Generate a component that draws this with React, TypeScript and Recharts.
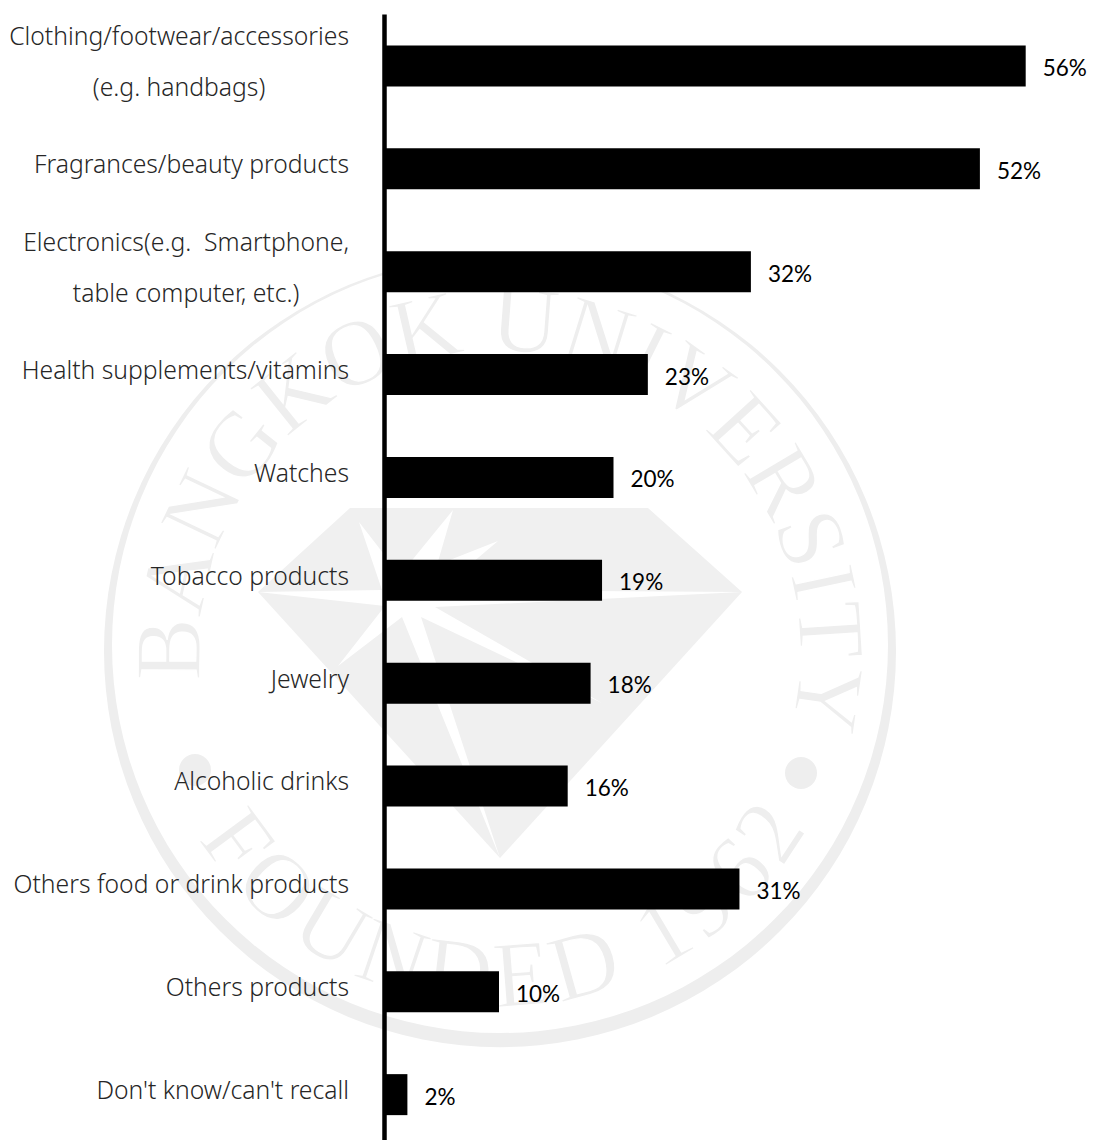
import React from 'react';
import { BarChart, Bar, XAxis, YAxis, LabelList } from 'recharts';

const CATEGORIES = [
  'Clothing/footwear/accessories\n(e.g. handbags)',
  'Fragrances/beauty products',
  'Electronics(e.g.  Smartphone,\ntable computer, etc.)',
  'Health supplements/vitamins',
  'Watches',
  'Tobacco products',
  'Jewelry',
  'Alcoholic drinks',
  'Others food or drink products',
  'Others products',
  "Don't know/can't recall",
];
const SHARES = [56, 52, 32, 23, 20, 19, 18, 16, 31, 10, 2];

const data = CATEGORIES.map((name, i) => ({ name, share: SHARES[i] }));

const WIDTH = 1094;
const HEIGHT = 1140;
const TICK_FONT = '300 24.7px "Noto Sans"';
const WATERMARK = '#eeeeee';

const measure = (() => {
  const ctx = document.createElement('canvas').getContext('2d')!;
  ctx.font = TICK_FONT;
  return (s: string) => ctx.measureText(s).width;
})();

// Right-aligned block whose wrapped lines are centred on each other
const CategoryTick = ({ y, payload }: any) => {
  const lines: string[] = payload.value.split('\n');
  const blockWidth = Math.max(...lines.map(measure));
  const right = 349;
  const cy = y - 5;
  return (
    <g>
      {lines.map((line, i) => (
        <text
          key={i}
          x={right - blockWidth / 2}
          y={cy + (i - (lines.length - 1) / 2) * 51}
          textAnchor="middle"
          dominantBaseline="central"
          fill="#262626"
          style={{ font: TICK_FONT, whiteSpace: 'pre' }}
        >
          {line}
        </text>
      ))}
    </g>
  );
};

const ValueLabel = ({ x, y, width, height, value }: any) => (
  <text
    x={x + width + 17}
    y={y + height / 2 + 1.5}
    dominantBaseline="central"
    fill="#000"
    style={{ fontFamily: 'Lato', fontSize: 22.5, fontWeight: 400 }}
  >
    {value}%
  </text>
);

// Faint university seal printed behind the chart
const Seal = () => {
  const cx = 500;
  const cy = 651;
  const rt = 300;
  const rb = 355;
  const polar = (r: number, deg: number) => {
    const a = (deg * Math.PI) / 180;
    return `${cx + r * Math.sin(a)} ${cy - r * Math.cos(a)}`;
  };
  return (
    <svg width={WIDTH} height={HEIGHT} style={{ position: 'absolute', left: 0, top: 0 }}>
      <defs>
        <path id="seal-top" d={`M ${polar(rt, -105.5)} A ${rt} ${rt} 0 1 1 ${polar(rt, 114.5)}`} />
        <path id="seal-bottom" d={`M ${polar(rb, -123.4)} A ${rb} ${rb} 0 0 0 ${polar(rb, 120.6)}`} />
      </defs>
      <path
        fillRule="evenodd"
        fill={WATERMARK}
        d={`M ${cx - 396} ${cy} a 396 396 0 1 0 792 0 a 396 396 0 1 0 -792 0 Z
            M ${cx - 388} 645 a 388 388 0 1 0 776 0 a 388 388 0 1 0 -776 0 Z`}
      />
      <polygon points="350,508 648,508 742,592 500,858 258,592" fill="#f0f0f0" />
      <polygon
        fill="#fff"
        points="359,522 400,575 453,510 437,565 498,541 440,590 742,592 435,607 602,703 421,617 500,858 402,617 338,666 385,606 258,592 382,590"
      />
      <circle cx={195} cy={770} r={16} fill={WATERMARK} />
      <circle cx={801} cy={773} r={16} fill={WATERMARK} />
      {/* white stroke over the fill thins the serif letters */}
      <g fill={WATERMARK} stroke="#fff" strokeWidth={1.2} style={{ fontFamily: '"Liberation Serif"', fontSize: 94 }}>
        <text letterSpacing={-0.5}>
          <textPath href="#seal-top" startOffset="50%" textAnchor="middle">
            BANGKOK UNIVERSITY
          </textPath>
        </text>
        <text letterSpacing={6.5}>
          <textPath href="#seal-bottom" startOffset="50%" textAnchor="middle">
            FOUNDED 1962
          </textPath>
        </text>
      </g>
    </svg>
  );
};

export default function App() {
  return (
    <div style={{ position: 'absolute', left: 0, top: 0, width: WIDTH, height: HEIGHT, overflow: 'hidden', background: '#fff' }}>
      <Seal />
      <div style={{ position: 'absolute', left: 0, top: 0 }}>
        <BarChart
          width={WIDTH}
          height={1160}
          data={data}
          layout="vertical"
          margin={{ top: 14.5, right: 22.5, bottom: 14, left: 0 }}
        >
          <XAxis type="number" domain={[0, 60]} hide />
          <YAxis
            type="category"
            dataKey="name"
            width={384.5}
            interval={0}
            tickLine={false}
            axisLine={{ stroke: '#000', strokeWidth: 4.5 }}
            tick={<CategoryTick />}
          />
          <Bar dataKey="share" fill="#000" barSize={41} isAnimationActive={false}>
            <LabelList dataKey="share" content={<ValueLabel />} />
          </Bar>
        </BarChart>
      </div>
    </div>
  );
}
